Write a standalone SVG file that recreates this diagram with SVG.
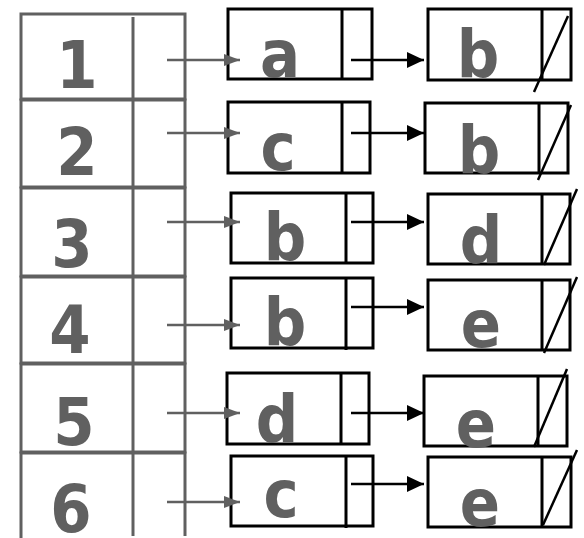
<svg xmlns="http://www.w3.org/2000/svg" width="584" height="538" viewBox="0 0 584 538">
<style>
.tbl{fill:none;stroke:#606060;stroke-width:3}
.box{fill:none;stroke:#000;stroke-width:3}
.num{font-family:"DejaVu Sans Condensed","DejaVu Sans",sans-serif;font-weight:bold;font-size:66px;fill:#606060;text-anchor:middle}
.let{font-family:"DejaVu Sans Condensed","DejaVu Sans",sans-serif;font-weight:bold;font-size:66px;fill:#606060;text-anchor:middle}
.ga{stroke:#606060;stroke-width:2.5;fill:none}
.ba{stroke:#000;stroke-width:2.5;fill:none}
.sl{stroke:#000;stroke-width:2.5}
</style>
<defs>
<marker id="gh" markerUnits="userSpaceOnUse" markerWidth="18" markerHeight="14" refX="16" refY="7" orient="auto">
<path d="M0,1 L16,7 L0,13 Z" fill="#606060"/>
</marker>
<marker id="bh" markerUnits="userSpaceOnUse" markerWidth="19" markerHeight="18" refX="17" refY="8" orient="auto">
<path d="M0,0 L17,8 L0,16 Z" fill="#000"/>
</marker>
</defs>
<rect width="584" height="538" fill="#fff"/>

<g id="row1"><rect class="tbl" x="21" y="14" width="164" height="85"/><line class="tbl" x1="133" y1="17" x2="133" y2="99"/><text class="num" x="77" y="88">1</text></g>
<g id="row2"><rect class="tbl" x="21" y="100" width="164" height="87"/><line class="tbl" x1="133" y1="100" x2="133" y2="187"/><text class="num" x="77" y="175">2</text></g>
<g id="row3"><rect class="tbl" x="21" y="188" width="164" height="88"/><line class="tbl" x1="133" y1="188" x2="133" y2="276"/><text class="num" x="72" y="267">3</text></g>
<g id="row4"><rect class="tbl" x="21" y="277" width="164" height="86"/><line class="tbl" x1="133" y1="277" x2="133" y2="363"/><text class="num" x="70" y="353">4</text></g>
<g id="row5"><rect class="tbl" x="21" y="364" width="164" height="88"/><line class="tbl" x1="133" y1="364" x2="133" y2="452"/><text class="num" x="74" y="445">5</text></g>
<g id="row6"><path class="tbl" d="M21,540 V453 H185 V536"/><line class="tbl" x1="133" y1="453" x2="133" y2="536"/><text class="num" x="71" y="532">6</text></g>

<g id="n1a"><rect class="box" x="228" y="9" width="144" height="70"/><line class="box" x1="342" y1="9" x2="342" y2="79"/><text class="let" x="280" y="77">a</text></g>
<g id="n1b"><rect class="box" x="428" y="9" width="143" height="71"/><line class="box" x1="542" y1="9" x2="542" y2="80"/><text class="let" x="478" y="77">b</text><line class="sl" x1="534" y1="92" x2="568" y2="16"/></g>
<g id="n2a"><rect class="box" x="228" y="102" width="142" height="71"/><line class="box" x1="342" y1="102" x2="342" y2="173"/><text class="let" x="278" y="170">c</text></g>
<g id="n2b"><rect class="box" x="425" y="103" width="143" height="70"/><line class="box" x1="539" y1="103" x2="539" y2="173"/><text class="let" x="479" y="173">b</text><line class="sl" x1="538" y1="180" x2="571" y2="105"/></g>
<g id="n3a"><rect class="box" x="231" y="193" width="142" height="70"/><line class="box" x1="346" y1="193" x2="346" y2="263"/><text class="let" x="285" y="260">b</text></g>
<g id="n3b"><rect class="box" x="428" y="194" width="142" height="70"/><line class="box" x1="542" y1="194" x2="542" y2="264"/><text class="let" x="481" y="263">d</text><line class="sl" x1="544" y1="265" x2="577" y2="189"/></g>
<g id="n4a"><rect class="box" x="231" y="278" width="142" height="70"/><line class="box" x1="346" y1="278" x2="346" y2="350"/><text class="let" x="285" y="345">b</text></g>
<g id="n4b"><rect class="box" x="428" y="280" width="142" height="70"/><line class="box" x1="542" y1="280" x2="542" y2="350"/><text class="let" x="481" y="347">e</text><line class="sl" x1="544" y1="353" x2="577" y2="277"/></g>
<g id="n5a"><rect class="box" x="227" y="373" width="142" height="71"/><line class="box" x1="341" y1="373" x2="341" y2="444"/><text class="let" x="277" y="442">d</text></g>
<g id="n5b"><rect class="box" x="424" y="376" width="143" height="70"/><line class="box" x1="538" y1="376" x2="538" y2="447"/><text class="let" x="476" y="447">e</text><line class="sl" x1="534" y1="447" x2="567" y2="369"/></g>
<g id="n6a"><rect class="box" x="231" y="456" width="142" height="70"/><line class="box" x1="346" y1="456" x2="346" y2="528"/><text class="let" x="281" y="517">c</text></g>
<g id="n6b"><rect class="box" x="428" y="457" width="143" height="70"/><line class="box" x1="542" y1="457" x2="542" y2="527"/><text class="let" x="480" y="526">e</text><line class="sl" x1="543" y1="525" x2="577" y2="450"/></g>

<g id="connectors">
<line class="ga" x1="167" y1="60" x2="240" y2="60" marker-end="url(#gh)"/>
<line class="ga" x1="167" y1="133" x2="240" y2="133" marker-end="url(#gh)"/>
<line class="ga" x1="167" y1="222" x2="240" y2="222" marker-end="url(#gh)"/>
<line class="ga" x1="167" y1="325" x2="240" y2="325" marker-end="url(#gh)"/>
<line class="ga" x1="167" y1="413" x2="240" y2="413" marker-end="url(#gh)"/>
<line class="ga" x1="167" y1="502" x2="240" y2="502" marker-end="url(#gh)"/>
<line class="ba" x1="351" y1="60" x2="424" y2="60" marker-end="url(#bh)"/>
<line class="ba" x1="351" y1="133" x2="424" y2="133" marker-end="url(#bh)"/>
<line class="ba" x1="351" y1="222" x2="424" y2="222" marker-end="url(#bh)"/>
<line class="ba" x1="351" y1="307" x2="424" y2="307" marker-end="url(#bh)"/>
<line class="ba" x1="351" y1="413" x2="424" y2="413" marker-end="url(#bh)"/>
<line class="ba" x1="351" y1="484" x2="424" y2="484" marker-end="url(#bh)"/>
</g>
</svg>
